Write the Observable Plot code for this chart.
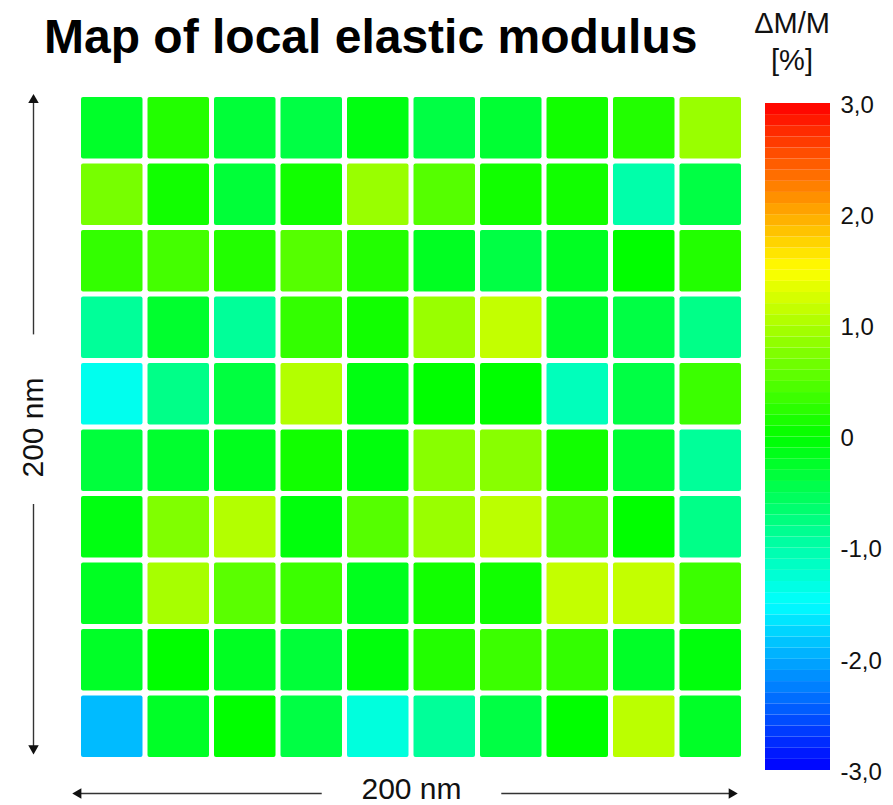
<!DOCTYPE html>
<html>
<head>
<meta charset="utf-8">
<script src="https://cdn.jsdelivr.net/npm/d3@7"></script>
<script src="https://cdn.jsdelivr.net/npm/@observablehq/plot@0.6"></script>
<style>
  html, body { margin: 0; padding: 0; background: #fff; }
  #wrap { position: relative; width: 893px; height: 805px; overflow: hidden; font-family: "Liberation Sans", Arial, sans-serif; }
  #wrap svg { position: absolute; top: 0; }
  .title { position: absolute; left: 44px; top: 13px; font-size: 48px; font-weight: bold; line-height: 1; color: #000; white-space: nowrap; }
  .unit { position: absolute; left: 742px; width: 100px; text-align: center; font-size: 29px; line-height: 1; color: #111; }
</style>
</head>
<body>
<div id="wrap">
  <div class="title">Map of local elastic modulus</div>
  <div class="unit" style="top:9px">ΔM/M</div>
  <div class="unit" style="top:46px">[%]</div>
</div>
<script>
// ΔM/M in %, rows top → bottom, columns left → right
const row1  = [-0.24,  0.20, -0.33, -0.40, -0.10, -0.40, -0.30,  0.10,  0.20,  0.90];
const row2  = [ 0.70,  0.10, -0.33,  0.10,  0.90,  0.50,  0.10,  0.10, -1.00, -0.40];
const row3  = [ 0.30,  0.40,  0.20,  0.50,  0.20, -0.20, -0.40, -0.20,  0.00,  0.20];
const row4  = [-0.90, -0.27, -0.90,  0.30,  0.10,  0.90,  1.15, -0.27, -0.40, -0.80];
const row5  = [-1.40, -0.80, -0.37,  1.05, -0.10,  0.00,  0.00, -1.10, -0.40,  0.35];
const row6  = [-0.35, -0.27, -0.17,  0.10, -0.07,  0.80,  0.80,  0.10, -0.30, -0.90];
const row7  = [-0.10,  0.75,  1.05, -0.07,  0.50,  0.90,  1.10,  0.45,  0.00, -0.80];
const row8  = [-0.20,  0.98,  0.53,  0.35, -0.17,  0.10,  0.10,  1.15,  1.15,  0.35];
const row9  = [-0.23,  0.00, -0.20, -0.33, -0.07,  0.20,  0.35,  0.30, -0.23, -0.07];
const row10 = [-1.90, -0.23,  0.00, -0.40, -1.30, -0.90, -0.40,  0.00,  1.10, -0.23];
const rows = [row1, row2, row3, row4, row5, row6, row7, row8, row9, row10];

const sizeNm = 200;              // scanned area, nm
const nCells = 10;
const colorTicks = [-3, -2, -1, 0, 1, 2, 3];
const colorDomain = [-3, -1.5, 0, 1.5, 3];
const colorRange = ["#0000ff", "#00ffff", "#00ff00", "#ffff00", "#ff0000"];
const bandStep = 0.1;
const scaleBarH = [{x1: 73, x2: -0.2, rot: -90}, {x1: 127, x2: 196.3, rot: 90}];
const scaleBarV = [{y1: 128, y2: 198.5, rot: 0}, {y1: 77, y2: 3.5, rot: 180}];

const step = sizeNm / nCells;
const cells = rows.flatMap((r, i) => r.map((v, j) => ({
  x1: j * step, x2: (j + 1) * step,
  y1: sizeNm - (i + 1) * step, y2: sizeNm - i * step, v
})));

const colorOpts = {type: "linear", domain: colorDomain, range: colorRange, clamp: true};
const font = "'Liberation Sans', Arial, sans-serif";

const main = Plot.plot({
  width: 893, height: 805,
  marginLeft: 78.5, marginRight: 149.5, marginTop: 94.5, marginBottom: 45.5,
  x: {domain: [0, sizeNm], axis: null},
  y: {domain: [0, sizeNm], axis: null},
  color: colorOpts,
  style: {fontFamily: font, background: "transparent"},
  marks: [
    Plot.rect(cells, {x1: "x1", x2: "x2", y1: "y1", y2: "y2", fill: "v", inset: 2.5, rx: 2}),
    Plot.link(scaleBarH, {x1: "x1", x2: "x2", y1: 0, y2: 0, dy: 33.5, stroke: "#333", strokeWidth: 1.4}),
    Plot.dot(scaleBarH, {x: "x2", y: 0, dy: 33.5, symbol: "triangle2", r: 5, fill: "#111", rotate: "rot"}),
    Plot.link(scaleBarV, {x1: 0, x2: 0, y1: "y1", y2: "y2", dx: -45.5, stroke: "#333", strokeWidth: 1.4}),
    Plot.dot(scaleBarV, {x: 0, y: "y2", dx: -45.5, symbol: "triangle2", r: 5, fill: "#111", rotate: "rot"}),
    Plot.text(["200 nm"], {x: sizeNm / 2, y: 0, dy: 29.5, text: d => d, fontSize: 30, fill: "#111"}),
    Plot.text(["200 nm"], {x: 0, y: sizeNm / 2, dx: -45.5, text: d => d, fontSize: 30, fill: "#111", rotate: -90})
  ]
});
main.style.left = "0px";
document.getElementById("wrap").appendChild(main);

const bands = d3.range(Math.round(6 / bandStep)).map(i => -3 + i * bandStep);
const bar = Plot.plot({
  width: 128, height: 805,
  marginLeft: 0, marginRight: 63, marginTop: 103, marginBottom: 35,
  y: {domain: [-3, 3], axis: null},
  color: colorOpts,
  style: {fontFamily: font, background: "transparent"},
  marks: [
    Plot.rect(bands, {y1: d => d, y2: d => d + bandStep, fill: d => d + bandStep / 2}),
    Plot.axisY(colorTicks, {anchor: "right", tickSize: 0, tickPadding: 10, fontSize: 24, fill: "#111", dy: 1.5,
      tickFormat: d => d === 0 ? "0" : d.toFixed(1).replace(".", ",")})
  ]
});
bar.style.left = "765px";
document.getElementById("wrap").appendChild(bar);
</script>
</body>
</html>
